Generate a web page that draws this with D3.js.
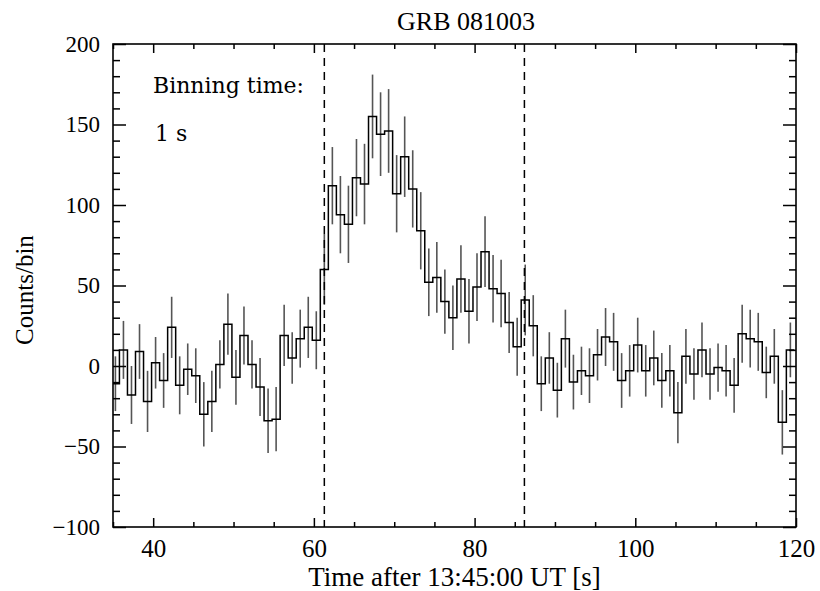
<!DOCTYPE html>
<html>
<head>
<meta charset="utf-8">
<script src="https://cdn.jsdelivr.net/npm/d3@7"></script>
<style>
  body { margin: 0; background: #fff; }
  .lbl { font-family: "Liberation Serif", serif; fill: #000; }
  .tick text { font-family: "Liberation Serif", serif; }
</style>
</head>
<body>
<div id="container"></div>
<script>
/* data: 1 s bins, first bin starts at 34.8 s */
var binStart = 34.8, binWidth = 1;
var counts = [-11, 10, -18, 9, -22, 2, -9, 24, -12, -2, -6, -30, -22, 1, 26, -7, 19, 1, -13, -34,
              -33, 19, 5, 17, 24, 16, 60, 112, 94, 88, 117, 113, 155, 144, 146, 107, 130, 110, 84, 52,
              55, 40, 30, 54, 34, 49, 71, 48, 45, 27, 12, 41, 25, -11, 5, -15, 17, -10, -3, -6,
              7, 18, 15, -9, -3, 13, -3, 5, -9, -3, -29, 6, -5, 10, -5, -1, -3, -12, 20, 17,
              15, -4, 6, -35, 10];
var errors = [17, 18, 18, 17, 19, 16, 17, 19, 18, 16, 17, 20, 19, 15, 19, 17, 18, 15, 18, 20,
              20, 19, 16, 18, 19, 18, 22, 24, 24, 24, 24, 25, 26, 26, 26, 24, 25, 24, 24, 21,
              22, 20, 20, 21, 20, 21, 22, 21, 21, 19, 18, 22, 19, 17, 16, 17, 18, 17, 15, 17,
              16, 18, 18, 17, 16, 17, 16, 17, 17, 16, 19, 17, 16, 17, 16, 15, 16, 17, 18, 18,
              18, 16, 17, 20, 17];
var triggerTimes = [61.3, 86.2];
var xMajor = [40, 60, 80, 100, 120];
var yMajor = [-100, -50, 0, 50, 100, 150, 200];

var W = 820, H = 591;
var margin = { top: 44, right: 24, bottom: 64, left: 113 };

var svg = d3.select("#container").append("svg")
            .attr("width", W).attr("height", H);

var x = d3.scaleLinear().domain([35, 120]).range([margin.left, W - margin.right]);
var y = d3.scaleLinear().domain([-100, 200]).range([H - margin.bottom, margin.top]);

svg.append("clipPath").attr("id", "plotclip")
   .append("rect")
   .attr("x", x(35)).attr("y", y(200))
   .attr("width", x(120) - x(35)).attr("height", y(-100) - y(200));

var plot = svg.append("g").attr("clip-path", "url(#plotclip)");

/* error bars */
plot.selectAll(".err")
  .data(counts)
  .enter().append("line")
    .attr("class", "err")
    .attr("x1", function(d, i) { return x(binStart + (i + 0.5) * binWidth); })
    .attr("x2", function(d, i) { return x(binStart + (i + 0.5) * binWidth); })
    .attr("y1", function(d, i) { return y(d - errors[i]); })
    .attr("y2", function(d, i) { return y(d + errors[i]); })
    .attr("stroke", "#555")
    .attr("stroke-width", 1.6);

/* histogram steps */
var pts = counts.map(function(c, i) { return [binStart + i * binWidth, c]; });
pts.push([binStart + counts.length * binWidth, counts[counts.length - 1]]);
var step = d3.line()
  .x(function(d) { return x(d[0]); })
  .y(function(d) { return y(d[1]); })
  .curve(d3.curveStepAfter);
plot.append("path")
  .attr("d", step(pts))
  .attr("fill", "none")
  .attr("stroke", "#000")
  .attr("stroke-width", 1.5);

/* trigger interval */
svg.selectAll(".trig")
  .data(triggerTimes)
  .enter().append("line")
    .attr("x1", function(d) { return x(d); }).attr("x2", function(d) { return x(d); })
    .attr("y1", y(200)).attr("y2", y(-100))
    .attr("stroke", "#000").attr("stroke-width", 1.5)
    .attr("stroke-dasharray", "8,6");

/* axes: ticks inward on all four sides */
function styleAxis(g) {
  g.select(".domain").remove();
  g.selectAll(".tick line").attr("stroke", "#000").attr("stroke-width", 1.5);
  g.selectAll(".tick text").attr("fill", "#000");
}
var xMinor = d3.range(35, 121, 5).filter(function(v) { return xMajor.indexOf(v) < 0; });
var yMinor = d3.range(-100, 201, 10).filter(function(v) { return yMajor.indexOf(v) < 0; });

svg.append("g").attr("transform", "translate(0," + y(-100) + ")")
  .call(d3.axisBottom(x).tickValues(xMajor).tickSize(-9).tickPadding(12).tickFormat(d3.format("d")))
  .call(styleAxis)
  .selectAll("text").attr("font-size", 25);
svg.append("g").attr("transform", "translate(0," + y(-100) + ")")
  .call(d3.axisBottom(x).tickValues(xMinor).tickSize(-5).tickFormat(""))
  .call(styleAxis);
svg.append("g").attr("transform", "translate(0," + y(200) + ")")
  .call(d3.axisTop(x).tickValues(xMajor).tickSize(-9).tickFormat(""))
  .call(styleAxis);
svg.append("g").attr("transform", "translate(0," + y(200) + ")")
  .call(d3.axisTop(x).tickValues(xMinor).tickSize(-5).tickFormat(""))
  .call(styleAxis);

svg.append("g").attr("transform", "translate(" + x(35) + ",0)")
  .call(d3.axisLeft(y).tickValues(yMajor).tickSize(-13).tickPadding(13))
  .call(styleAxis)
  .selectAll("text").attr("font-size", 23);
svg.append("g").attr("transform", "translate(" + x(35) + ",0)")
  .call(d3.axisLeft(y).tickValues(yMinor).tickSize(-7).tickFormat(""))
  .call(styleAxis);
svg.append("g").attr("transform", "translate(" + x(120) + ",0)")
  .call(d3.axisRight(y).tickValues(yMajor).tickSize(-13).tickFormat(""))
  .call(styleAxis);
svg.append("g").attr("transform", "translate(" + x(120) + ",0)")
  .call(d3.axisRight(y).tickValues(yMinor).tickSize(-7).tickFormat(""))
  .call(styleAxis);

/* frame */
svg.append("rect")
  .attr("x", x(35)).attr("y", y(200))
  .attr("width", x(120) - x(35)).attr("height", y(-100) - y(200))
  .attr("fill", "none").attr("stroke", "#000").attr("stroke-width", 1.6);

/* texts */
svg.append("text").attr("class", "lbl")
  .attr("x", 466).attr("y", 30)
  .attr("text-anchor", "middle").attr("font-size", 26)
  .text("GRB 081003");

svg.append("text").attr("class", "lbl")
  .attr("x", (x(35) + x(120)) / 2).attr("y", 586)
  .attr("text-anchor", "middle").attr("font-size", 27)
  .text("Time after 13:45:00 UT [s]");

svg.append("text").attr("class", "lbl")
  .attr("transform", "translate(33,290) rotate(-90)")
  .attr("text-anchor", "middle").attr("font-size", 25)
  .text("Counts/bin");

svg.append("text").attr("class", "lbl")
  .attr("x", 153).attr("y", 93).attr("font-size", 22)
  .style("font-family", "'DejaVu Serif', serif")
  .text("Binning time:");
svg.append("text").attr("class", "lbl")
  .attr("x", 155).attr("y", 141).attr("font-size", 22)
  .style("font-family", "'DejaVu Serif', serif")
  .text("1 s");
</script>
</body>
</html>
